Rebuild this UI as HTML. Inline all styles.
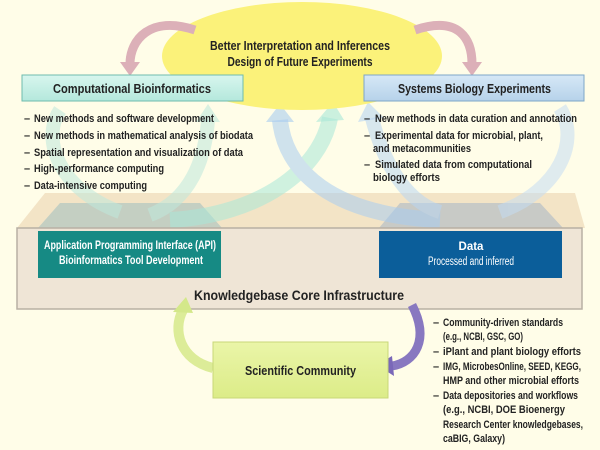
<!DOCTYPE html>
<html><head><meta charset="utf-8"><style>
html,body{margin:0;padding:0;background:#fffde8;}
svg{display:block}
text{font-family:"Liberation Sans",sans-serif;font-weight:bold;fill:#222}
</style></head><body>
<svg width="600" height="450" viewBox="0 0 600 450" xmlns="http://www.w3.org/2000/svg">
<defs>
<linearGradient id="cb" x1="0" y1="0" x2="0" y2="1"><stop offset="0" stop-color="#d8f6ee"/><stop offset="1" stop-color="#b4e8dc"/></linearGradient>
<linearGradient id="sb" x1="0" y1="0" x2="0" y2="1"><stop offset="0" stop-color="#d6e8f6"/><stop offset="1" stop-color="#b6d2ea"/></linearGradient>
<linearGradient id="sc" x1="0" y1="0" x2="0" y2="1"><stop offset="0" stop-color="#eaf5a8"/><stop offset="1" stop-color="#dcec88"/></linearGradient>
</defs>
<rect width="600" height="450" fill="#fffde8"/>
<polygon points="45,193 575,193 585,228 17,228" fill="#f3e4c6"/>
<polygon points="60,203 200,203 222,228 38,228" fill="#c4cfc2"/>
<polygon points="400,203 540,203 563,228 379,228" fill="#c8cac6"/>
<g fill="none" stroke-linecap="butt" opacity="0.55">
<path d="M120,212 C60,190 40,140 60,110" stroke="#bfe9dc" stroke-width="14"/>
<path d="M150,215 C190,200 205,160 208,120" stroke="#bfe9dc" stroke-width="14"/>
<path d="M170,220 C260,215 320,170 330,118" stroke="#a9e8d8" stroke-width="16"/>
<path d="M440,220 C330,215 285,170 280,120" stroke="#a9cdf0" stroke-width="16"/>
<path d="M440,212 C400,200 380,150 372,118" stroke="#b9d6f2" stroke-width="14"/>
<path d="M500,212 C560,190 580,140 560,108" stroke="#c4dcf2" stroke-width="14"/>
</g>
<g opacity="0.6">
<polygon points="196,122 220,122 208,104" fill="#bfe9dc"/>
<polygon points="316,122 344,120 333,102" fill="#a9e8d8"/>
<polygon points="266,122 294,122 280,104" fill="#a9cdf0"/>
<polygon points="358,122 384,118 368,102" fill="#b9d6f2"/>
</g>
<ellipse cx="302" cy="56" rx="140" ry="54" fill="#fbf27a"/>
<text x="300" y="50" font-size="12.5" text-anchor="middle" textLength="180" lengthAdjust="spacingAndGlyphs">Better Interpretation and Inferences</text>
<text x="300" y="66" font-size="12.5" text-anchor="middle" textLength="145" lengthAdjust="spacingAndGlyphs">Design of Future Experiments</text>
<path d="M195,30 C150,15 130,40 130,64" fill="none" stroke="#dcb0b8" stroke-width="9"/>
<polygon points="120,62 140,62 130,76" fill="#dcb0b8"/>
<path d="M415,30 C460,15 472,40 472,64" fill="none" stroke="#dcb0b8" stroke-width="9"/>
<polygon points="462,62 482,62 472,76" fill="#dcb0b8"/>
<rect x="22" y="75" width="221" height="26" fill="url(#cb)" stroke="#6fbcae" stroke-width="1"/>
<text x="53" y="93" font-size="12.5" textLength="158" lengthAdjust="spacingAndGlyphs">Computational Bioinformatics</text>
<rect x="364" y="75" width="220" height="26" fill="url(#sb)" stroke="#7ea6c8" stroke-width="1"/>
<text x="398" y="93" font-size="12.5" textLength="153" lengthAdjust="spacingAndGlyphs">Systems Biology Experiments</text>
<g font-size="11">
<text x="24" y="122">–</text><text x="34" y="122" textLength="180" lengthAdjust="spacingAndGlyphs">New methods and software development</text>
<text x="24" y="139">–</text><text x="34" y="139" textLength="219" lengthAdjust="spacingAndGlyphs">New methods in mathematical analysis of biodata</text>
<text x="24" y="156">–</text><text x="34" y="156" textLength="209" lengthAdjust="spacingAndGlyphs">Spatial representation and visualization of data</text>
<text x="24" y="172">–</text><text x="34" y="172" textLength="130" lengthAdjust="spacingAndGlyphs">High-performance computing</text>
<text x="24" y="189">–</text><text x="34" y="189" textLength="113" lengthAdjust="spacingAndGlyphs">Data-intensive computing</text>
<text x="364" y="122">–</text><text x="375" y="122" textLength="202" lengthAdjust="spacingAndGlyphs">New methods in data curation and annotation</text>
<text x="364" y="139">–</text><text x="375" y="139" textLength="168" lengthAdjust="spacingAndGlyphs">Experimental data for microbial, plant,</text>
<text x="373" y="152" textLength="98" lengthAdjust="spacingAndGlyphs">and metacommunities</text>
<text x="364" y="168">–</text><text x="375" y="168" textLength="157" lengthAdjust="spacingAndGlyphs">Simulated data from computational</text>
<text x="373" y="181" textLength="67" lengthAdjust="spacingAndGlyphs">biology efforts</text>
</g>
<rect x="17" y="228" width="565" height="81" fill="#efe5d6" stroke="#b8b0a4" stroke-width="1.5"/>
<rect x="38" y="231" width="183" height="47" fill="#168a84"/>
<text x="130" y="249" font-size="11.5" text-anchor="middle" style="fill:#fff" textLength="172" lengthAdjust="spacingAndGlyphs">Application Programming Interface (API)</text>
<text x="131" y="264" font-size="11.5" text-anchor="middle" style="fill:#fff" textLength="144" lengthAdjust="spacingAndGlyphs">Bioinformatics Tool Development</text>
<rect x="379" y="231" width="183" height="47" fill="#0b5e9a"/>
<text x="471" y="250" font-size="11.5" text-anchor="middle" style="fill:#fff">Data</text>
<text x="471" y="265" font-size="11.5" text-anchor="middle" style="fill:#fff;font-weight:normal" textLength="86" lengthAdjust="spacingAndGlyphs">Processed and inferred</text>
<text x="194" y="300" font-size="13.5" textLength="210" lengthAdjust="spacingAndGlyphs">Knowledgebase Core Infrastructure</text>
<path d="M213,368 C180,360 172,330 183,310" fill="none" stroke="#dcec98" stroke-width="10"/>
<polygon points="173,312 193,313 186,297" fill="#d4e88a"/>
<path d="M412,305 C430,340 415,362 392,366" fill="none" stroke="#8878c0" stroke-width="9"/>
<polygon points="392,356 394,376 377,365" fill="#7a68b8"/>
<rect x="213" y="342" width="175" height="56" fill="url(#sc)" stroke="#c8d878" stroke-width="1"/>
<text x="245" y="375" font-size="12.5" textLength="111" lengthAdjust="spacingAndGlyphs">Scientific Community</text>
<g font-size="11">
<text x="433" y="326">–</text><text x="443" y="326" textLength="120" lengthAdjust="spacingAndGlyphs">Community-driven standards</text>
<text x="443" y="340" textLength="80" lengthAdjust="spacingAndGlyphs">(e.g., NCBI, GSC, GO)</text>
<text x="433" y="355">–</text><text x="443" y="355" textLength="138" lengthAdjust="spacingAndGlyphs">iPlant and plant biology efforts</text>
<text x="433" y="370">–</text><text x="443" y="370" textLength="138" lengthAdjust="spacingAndGlyphs">IMG, MicrobesOnline, SEED, KEGG,</text>
<text x="443" y="384" textLength="136" lengthAdjust="spacingAndGlyphs">HMP and other microbial efforts</text>
<text x="433" y="399">–</text><text x="443" y="399" textLength="135" lengthAdjust="spacingAndGlyphs">Data depositories and workflows</text>
<text x="443" y="413" textLength="122" lengthAdjust="spacingAndGlyphs">(e.g., NCBI, DOE Bioenergy</text>
<text x="443" y="428" textLength="140" lengthAdjust="spacingAndGlyphs">Research Center knowledgebases,</text>
<text x="443" y="442" textLength="62" lengthAdjust="spacingAndGlyphs">caBIG, Galaxy)</text>
</g>
</svg>
</body></html>
